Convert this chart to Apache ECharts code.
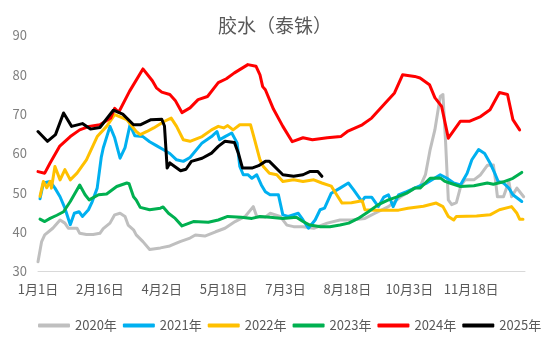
<!DOCTYPE html>
<html>
<head>
<meta charset="utf-8">
<script src="https://cdn.jsdelivr.net/npm/echarts@6/dist/echarts.min.js"></script>
<style>html,body{margin:0;padding:0;background:#fff}#c{width:550px;height:337px}</style>
</head>
<body>
<div id="c"></div>
<script>
const xTickLabels = ['1月1日','2月16日','4月2日','5月18日','7月3日','8月18日','10月3日','11月18日'];
const seriesNames = ['2020年','2021年','2022年','2023年','2024年','2025年'];

const s2020 = [[0,32.5],[2.7,37.6],[5,39.3],[11,41],[16.4,43.1],[20,42.3],[22.5,41],[29,41],[31,39.7],[36,39.4],[41,39.4],[46,39.7],[48.5,40.9],[53.5,42.3],[57,44.4],[61,44.8],[64.7,44],[67,41.8],[71,40.6],[73,39.3],[78,37.6],[83,35.6],[91,36],[98,36.5],[105.6,37.6],[113,38.5],[117,39.3],[124,39],[132,40.1],[139,41],[146.5,42.7],[154,44],[160,46.5],[162.6,44],[169,43.8],[172.5,44.8],[180,44],[185,41.8],[190,41.4],[197,41.4],[205,41],[215,42.3],[224.5,43.1],[233,43.1],[243,43.5],[250.5,44.8],[260.5,46.5],[270,49.1],[280,51.2],[284,51.6],[288,54.6],[291.5,61],[295,66],[299,74.5],[301,75],[303,62.7],[305,48.2],[307.5,47],[311,47.5],[314.5,52],[317.5,53.3],[324,53.3],[329,54.6],[334,57],[338.5,57.1],[340,53.3],[341.5,49],[346,49],[350,52.9],[352,49],[356,51.2],[361,49]];

const s2021 = [[1.5,48.5],[4,52.5],[9,52.9],[12.6,51.2],[16.4,49],[20,46.1],[24,41.9],[27,44.8],[30.5,45.2],[33,44],[37.5,45.7],[40,47.5],[44,51.2],[47,59],[48.5,61.4],[53.5,66.9],[57,64],[61,58.8],[64.7,61.5],[68.4,67.3],[72,64.5],[78,64.3],[83,63],[88,62],[93,61],[98,60],[103,58.4],[108,58],[113,59],[122,62.7],[129,64.3],[133,65.6],[135,63.5],[139,64.3],[144,65.2],[148,62.7],[150,56.7],[152.6,54.6],[156,54.6],[159,53.7],[162.6,54.6],[166,52],[169,50.3],[172.5,49.5],[178.7,49.5],[182,44.4],[186,44],[193.5,44.8],[197,43.1],[201,41],[206,43.1],[209.7,45.7],[213,46.1],[218,49.9],[224.5,51.2],[230.7,52.5],[234.5,50.8],[240.7,47.8],[243,48.9],[248,48.9],[253,46.5],[257,48.9],[260.5,49.5],[264,46.5],[268,49.5],[274,50.3],[280,51.2],[289,52.5],[299,54.6],[304,53.7],[309,52.5],[314,52],[319,55],[322.5,58.4],[327.5,61],[332,60],[336,57.6],[340,54.6],[342,52.9],[346,52.5],[350,51.2],[353,49.5],[359.6,47.8]];

const s2022 = [[1.5,49.1],[4,52.9],[6.5,51.3],[9,52.9],[10,51.2],[12.6,56.7],[16.4,53.3],[20,55.9],[24,53.3],[29,55],[36,58.4],[44,64.3],[51,66.9],[57,69.9],[66,68.6],[73,65.6],[76,64.8],[81,65.6],[86,66.5],[94,68.2],[99,69],[103,66.9],[108,63.5],[113,63.1],[122,64.3],[129,66],[134,66.9],[138,66.5],[141,67.1],[145,66],[150,67.3],[158,67.3],[161,63.5],[165,58.4],[167.5,56.7],[172,55],[177.5,54.6],[182,52.9],[190,53.3],[197,52.9],[205,53.3],[211,52.5],[218,51.7],[222,49.5],[226,47.4],[233,47.5],[241,48],[243,45.7],[250.5,45.6],[268,45.6],[275,46.1],[286.5,46.6],[296,47.4],[301,46.5],[305,44],[309,43.1],[311,44],[326,44.1],[336,44.4],[343,45.7],[352,46.5],[356,44.8],[358,43.3],[360.5,43.3]];

const s2023 = [[1.5,43.3],[5,42.7],[9,43.5],[14,44.3],[19,45.2],[24,47.8],[29,50.8],[31,52],[35,49.5],[38,48.2],[45,49.5],[51,49.7],[58.5,51.6],[66,52.5],[67.7,52.3],[71,49],[73,48.2],[76,46.3],[83,45.7],[91,46.1],[93,46.4],[97,44.8],[102,43.5],[107,41.6],[115.5,42.7],[126.6,42.5],[134,43.1],[141,44],[151,43.8],[159,43.5],[165,44],[172.5,43.8],[182,43.5],[192,43.8],[197,42.7],[202,41.8],[210,41.4],[217,41.4],[224.5,41.8],[231,42.3],[238,43.5],[245.6,45.2],[253,47],[260.5,48.2],[268,49.1],[274,49.9],[280,51.2],[284,51.2],[291.5,53.7],[299,53.8],[302.6,52.9],[306,52.5],[314,51.6],[324,51.8],[334,52.5],[338.5,52.2],[346,52.8],[353,53.7],[359.6,55.2]];

const s2024 = [[0,55.4],[5,55],[9,57.6],[16,61.8],[24,64.3],[31,66],[38,66.9],[46,67.3],[54,69],[57,71.5],[60,70.5],[68,75.8],[78,81.5],[85,78.5],[88,76.7],[92,75.6],[98,75],[102,73.5],[107,70.4],[113,71.6],[119,73.7],[126,74.5],[134,78],[140,79],[146,80.5],[156,82.6],[162,82.2],[165,80],[167,77],[169,76.2],[175,71.3],[182,66.9],[189,63],[197,64],[204,63.5],[215,64],[225,64.3],[230,65.6],[241,67.3],[248,69],[258,72.8],[265,75.4],[271,80],[280,79.6],[284,79.2],[291,77.5],[295,74.2],[300,72],[305,63.9],[314,68.2],[321,68.2],[329,69.4],[336,71.1],[343,75.5],[349,75],[353,68.6],[358,66]];

const s2025 = [[0,65.6],[7,63.1],[13,64.8],[19,70.3],[25,66.9],[33,67.6],[39,66.2],[46,66.6],[56,71],[63,70],[71,67.3],[76,67.3],[84,68.6],[92,68.7],[94,67],[96,56.3],[98,57.6],[106,55.6],[110,56],[114,58],[122,58.8],[129,60.1],[134,61.8],[139,63.1],[146,62.8],[149,60],[152,56.3],[159,56.3],[164,56.9],[169,58],[172,58],[182,54.6],[190,54.2],[197,54.6],[202,55.4],[208,55.4],[211,54.2]];

const seriesData = [s2020, s2021, s2022, s2023, s2024, s2025];
const colors = ['#BFBFBF','#00B0F0','#FFC000','#00B050','#FF0000','#000000'];
const FONT = '"Noto Sans CJK SC", "Noto Sans", sans-serif';

const chart = echarts.init(document.getElementById('c'), null, {renderer: 'canvas'});
chart.setOption({
  animation: false,
  color: colors,
  title: {
    text: '胶水（泰铢）',
    left: 'center',
    top: 11,
    textStyle: {fontFamily: FONT, fontSize: 19, fontWeight: 'normal', color: '#595959'}
  },
  legend: {
    data: seriesNames,
    left: 33,
    top: 314,
    itemWidth: 32,
    itemHeight: 4,
    itemGap: 6,
    icon: 'roundRect',
    textStyle: {fontFamily: FONT, fontSize: 13, color: '#595959'}
  },
  grid: {left: 38, right: 25, top: 35.5, bottom: 65.5, containLabel: false},
  xAxis: {
    type: 'value',
    min: 0,
    max: 362,
    interval: 46,
    axisLine: {show: true, lineStyle: {color: '#D9D9D9', width: 1}},
    axisTick: {show: false},
    splitLine: {show: false},
    axisLabel: {
      margin: 11,
      fontFamily: FONT,
      fontSize: 13,
      color: '#595959',
      showMaxLabel: false,
      formatter: function (v) {
        const i = Math.round(v / 46);
        return (Math.abs(v - i * 46) < 1e-6 && xTickLabels[i]) ? xTickLabels[i] : '';
      }
    }
  },
  yAxis: {
    type: 'value',
    min: 30,
    max: 90,
    interval: 10,
    axisLine: {show: false},
    axisTick: {show: false},
    splitLine: {show: false},
    axisLabel: {margin: 11, fontFamily: FONT, fontSize: 13, color: '#7F7F7F'}
  },
  series: seriesNames.map(function (n, i) {
    return {
      name: n,
      type: 'line',
      data: seriesData[i],
      showSymbol: false,
      symbol: 'none',
      smooth: false,
      lineStyle: {width: 3, color: colors[i], cap: 'round', join: 'round'},
      itemStyle: {color: colors[i]},
      z: 2 + i
    };
  })
});
</script>
</body>
</html>
